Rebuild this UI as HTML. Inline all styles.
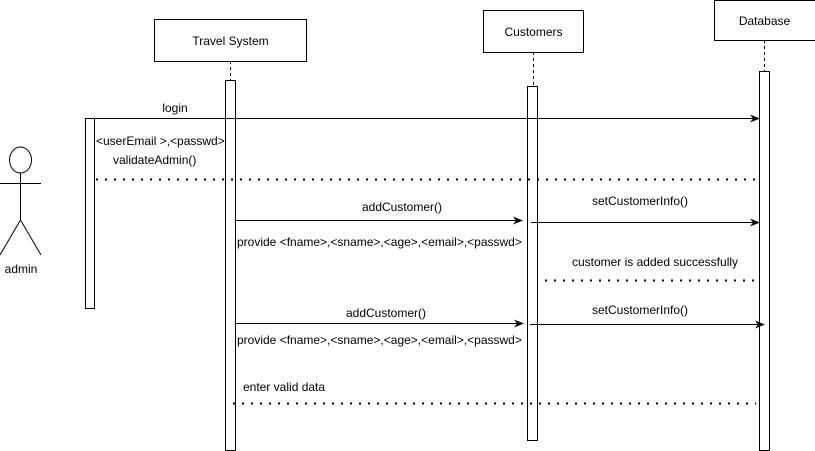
<!DOCTYPE html>
<html><head><style>
html,body{margin:0;padding:0;background:#fff;}
svg{display:block;}
text{font-family:"Liberation Sans",Arial,sans-serif;font-size:12px;fill:#000;}
</style></head><body>
<svg width="815" height="451" viewBox="0 0 815 451" xmlns="http://www.w3.org/2000/svg">
<defs>
<marker id="a" markerWidth="10" markerHeight="8" refX="9" refY="4" orient="auto" markerUnits="userSpaceOnUse">
<path d="M0,0 L10,4 L0,8 L3,4 Z" fill="#000"/></marker>
</defs>
<g fill="#fff" stroke="#000" stroke-width="1">
<!-- lifelines -->
<line x1="230.5" y1="61" x2="230.5" y2="80" stroke-dasharray="3 3"/>
<line x1="533.5" y1="52" x2="533.5" y2="86" stroke-dasharray="3 3"/>
<line x1="764.5" y1="40" x2="764.5" y2="71" stroke-dasharray="3 3"/>
<rect x="154.5" y="19.5" width="152" height="42"/>
<rect x="483.5" y="10.5" width="100" height="42"/>
<rect x="714.5" y="0.5" width="101" height="40"/>
<rect x="225.5" y="80.5" width="10" height="370"/>
<rect x="527.5" y="86.5" width="10" height="354"/>
<rect x="759.5" y="71.5" width="10" height="379"/>
<rect x="85.5" y="118.5" width="9" height="190"/>
<!-- actor -->
<ellipse cx="20.5" cy="160" rx="11" ry="13"/>
<line x1="20.5" y1="173" x2="20.5" y2="220"/>
<line x1="0" y1="183.5" x2="41" y2="183.5"/>
<line x1="20.5" y1="220" x2="0" y2="255"/>
<line x1="20.5" y1="220" x2="41" y2="255"/>
</g>
<g stroke="#000" stroke-width="1" fill="none">
<line x1="94" y1="118.5" x2="759" y2="118.5" marker-end="url(#a)"/>
<line x1="235" y1="220.5" x2="522" y2="220.5" marker-end="url(#a)"/>
<line x1="531" y1="222.5" x2="759" y2="222.5" marker-end="url(#a)"/>
<line x1="236" y1="323.5" x2="523" y2="323.5" marker-end="url(#a)"/>
<line x1="530" y1="324.5" x2="764" y2="324.5" marker-end="url(#a)"/>
</g>
<g stroke="#000" stroke-width="2" fill="none" stroke-dasharray="2 7">
<line x1="96" y1="179.5" x2="759" y2="179.5"/>
<line x1="545" y1="280.5" x2="757" y2="280.5"/>
<line x1="233" y1="403.5" x2="756" y2="403.5"/>
</g>
<text x="230.5" y="45" text-anchor="middle">Travel System</text>
<text x="533.5" y="36" text-anchor="middle">Customers</text>
<text x="764.5" y="25" text-anchor="middle">Database</text>
<text x="21" y="273" text-anchor="middle">admin</text>
<text x="175" y="112" text-anchor="middle">login</text>
<text x="96" y="145" font-size="11.5">&lt;userEmail &gt;,&lt;passwd&gt;</text>
<text x="113" y="164">validateAdmin()</text>
<text x="402" y="211" text-anchor="middle">addCustomer()</text>
<text x="640" y="205" text-anchor="middle">setCustomerInfo()</text>
<text x="237" y="246" font-size="11.5">provide &lt;fname&gt;,&lt;sname&gt;,&lt;age&gt;,&lt;email&gt;,&lt;passwd&gt;</text>
<text x="655" y="266" text-anchor="middle">customer is added successfully</text>
<text x="386" y="317" text-anchor="middle">addCustomer()</text>
<text x="640" y="314" text-anchor="middle">setCustomerInfo()</text>
<text x="237" y="344" font-size="11.5">provide &lt;fname&gt;,&lt;sname&gt;,&lt;age&gt;,&lt;email&gt;,&lt;passwd&gt;</text>
<text x="243" y="391">enter valid data</text>
</svg>
</body></html>
